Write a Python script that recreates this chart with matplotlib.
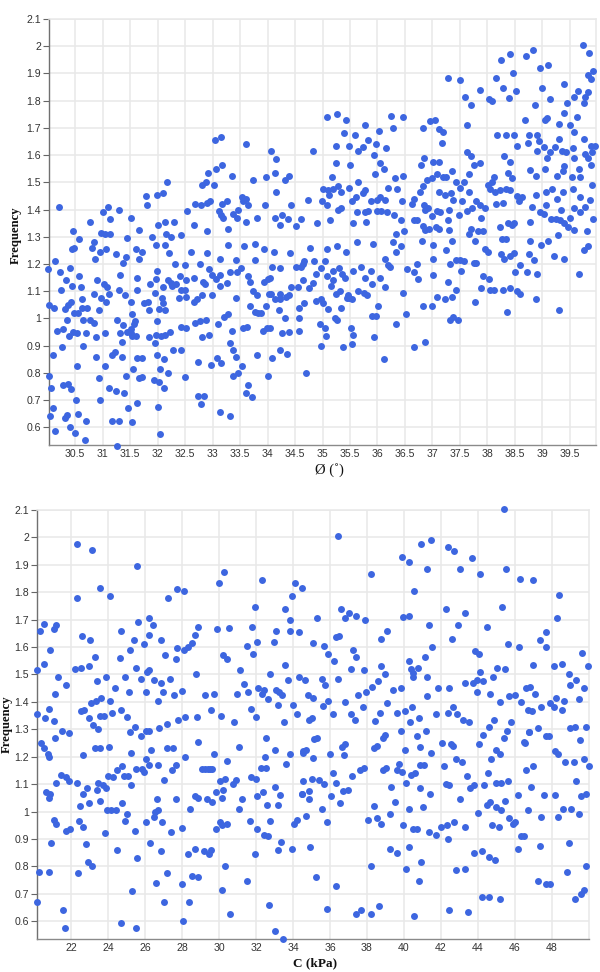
import matplotlib
matplotlib.use("Agg")
import matplotlib.pyplot as plt

phi_upper_left = [(30.21,1.41),(30.46,1.32),(30.77,1.355),(30.97,1.315),(31.04,1.31),(31.13,1.31),(31.00,1.39),(31.10,1.41),(31.13,1.365),(31.30,1.40),(31.44,1.295),(31.52,1.37),(31.66,1.325),(31.79,1.45),(31.81,1.415),(31.89,1.30),(31.99,1.455),(32.10,1.46),(32.17,1.50),(32.0,1.345),(32.13,1.355),(32.16,1.31),(32.24,1.30),(32.29,1.355),(32.43,1.305),(32.53,1.395),(32.66,1.345),(32.69,1.42),(32.79,1.415),(32.81,1.49),(32.89,1.50),(32.91,1.535),(32.90,1.425),(32.96,1.43),(32.90,1.32),(33.03,1.49),(33.05,1.655),(33.16,1.665),(33.07,1.55),(33.17,1.565),(33.18,1.42),(33.26,1.43),(33.11,1.395),(33.16,1.38),(33.19,1.37),(33.28,1.33),(33.36,1.525),(33.37,1.385),(33.44,1.37),(33.47,1.40),(33.53,1.445),(33.61,1.44),(33.56,1.43),(33.65,1.415),(33.60,1.64),(33.61,1.355),(33.74,1.51),(33.80,1.37),(33.95,1.415),(33.97,1.52),(34.06,1.615),(34.16,1.585),(34.14,1.535),(34.15,1.465),(34.13,1.37),(34.26,1.38),(34.22,1.345),(34.37,1.365),(34.31,1.51),(34.39,1.525),(34.42,1.415),(34.52,1.34)]

phi_upper_right = [(34.83,1.615),(35.08,1.74),(35.27,1.75),(35.43,1.73),(35.39,1.68),(35.59,1.675),(35.24,1.635),(35.49,1.635),(35.73,1.63),(35.65,1.615),(35.83,1.655),(35.77,1.71),(35.97,1.64),(36.03,1.69),(35.93,1.60),(36.16,1.625),(36.24,1.745),(36.29,1.70),(36.46,1.74),(35.24,1.57),(35.50,1.565),(36.05,1.57),(36.12,1.55),(35.96,1.53),(35.18,1.52),(36.31,1.515),(36.46,1.525),(35.01,1.475),(35.10,1.47),(35.19,1.475),(35.29,1.485),(35.48,1.48),(35.64,1.50),(35.12,1.455),(35.33,1.465),(35.77,1.47),(35.73,1.46),(35.61,1.445),(35.53,1.43),(34.73,1.435),(34.99,1.43),(35.08,1.415),(35.29,1.40),(35.34,1.405),(35.88,1.43),(36.0,1.435),(36.05,1.445),(36.13,1.435),(36.19,1.48),(36.36,1.475),(36.44,1.43),(35.63,1.39),(35.77,1.39),(35.83,1.395),(36.0,1.395),(36.07,1.395),(36.18,1.39),(36.30,1.38),(34.61,1.365),(34.90,1.35),(35.14,1.36),(35.56,1.35),(35.80,1.355),(36.42,1.36),(36.49,1.32),(36.34,1.31),(36.83,1.70),(36.95,1.725),(37.04,1.73),(37.11,1.695),(37.20,1.685),(37.17,1.645),(37.28,1.885),(37.51,1.875),(37.59,1.815),(37.70,1.785),(37.62,1.71),(37.86,1.84),(38.03,1.805),(38.09,1.80),(38.15,1.885),(38.24,1.95),(38.41,1.97),(38.46,1.90),(38.28,1.845),(38.39,1.81),(38.52,1.835),(38.70,1.965),(38.82,1.985),(38.96,1.92),(39.10,1.93),(38.99,1.845),(39.14,1.805),(38.86,1.785),(39.39,1.86),(39.64,1.835),(39.74,2.005),(39.85,1.975),(39.82,1.895),(39.92,1.91),(39.88,1.88),(39.82,1.83),(39.78,1.815),(39.58,1.815),(39.44,1.79),(39.75,1.79),(39.40,1.755),(39.63,1.74),(38.68,1.73),(39.04,1.73),(39.08,1.735),(39.30,1.715),(39.51,1.71),(39.57,1.685),(38.17,1.675),(38.33,1.675),(38.48,1.675),(38.76,1.675),(38.90,1.675),(38.94,1.65),(38.74,1.645),(38.53,1.635),(39.03,1.63),(39.30,1.66),(39.76,1.66),(39.23,1.63),(39.89,1.635),(39.95,1.635),(39.55,1.625),(39.35,1.615),(39.43,1.61),(38.91,1.615),(39.13,1.61),(39.08,1.59),(39.77,1.605),(39.91,1.61),(39.83,1.59),(39.57,1.59),(38.30,1.595),(38.41,1.575),(37.63,1.61),(37.71,1.595),(36.85,1.59),(36.79,1.565),(37.01,1.575),(37.12,1.575),(37.76,1.565),(37.86,1.57),(39.39,1.56),(39.89,1.565),(39.67,1.55),(39.37,1.54),(39.05,1.55),(38.77,1.545),(38.88,1.525),(39.27,1.525),(39.53,1.52),(39.68,1.52),(37.36,1.54),(37.66,1.53),(38.38,1.535),(38.44,1.515),(38.12,1.52),(37.09,1.53),(36.99,1.515),(36.90,1.51),(37.19,1.52),(37.25,1.52),(37.42,1.50),(37.58,1.50),(38.09,1.50),(38.01,1.49),(38.05,1.475),(37.50,1.48),(36.83,1.485),(36.77,1.465),(36.67,1.44),(36.62,1.42),(37.11,1.465),(37.23,1.455),(37.34,1.46),(37.38,1.435),(37.53,1.43),(37.67,1.465),(38.13,1.465),(38.23,1.47),(38.33,1.475),(38.41,1.47),(38.53,1.45),(38.63,1.445),(38.57,1.43),(38.89,1.455),(39.06,1.465),(39.17,1.475),(39.37,1.465),(39.56,1.475),(39.91,1.49),(39.26,1.44),(39.69,1.445),(39.87,1.435),(38.28,1.425),(38.16,1.42),(37.79,1.43),(37.87,1.415),(37.96,1.405),(37.72,1.405),(37.63,1.395),(38.81,1.41),(39.06,1.415),(39.58,1.405),(39.77,1.41),(39.68,1.39),(39.34,1.40),(38.96,1.39),(39.03,1.385),(36.85,1.415),(36.86,1.40),(36.92,1.405),(37.09,1.395),(37.14,1.39),(37.30,1.40),(36.99,1.375),(37.48,1.38),(37.89,1.37),(36.66,1.36),(36.72,1.36),(37.29,1.36),(36.82,1.34),(36.86,1.325),(36.94,1.33),(37.06,1.335),(37.11,1.33),(37.30,1.325),(37.71,1.33),(37.82,1.32),(37.92,1.32),(37.66,1.31),(38.22,1.335),(38.38,1.35),(38.45,1.345),(38.48,1.35),(38.78,1.355),(39.16,1.365),(39.24,1.365),(39.32,1.36),(39.40,1.35),(39.46,1.335),(39.50,1.37),(39.57,1.325),(39.28,1.305),(39.81,1.32),(39.92,1.365)]

phi_lower_left = [(30.58,1.29),(30.84,1.28),(30.44,1.255),(30.48,1.26),(30.80,1.26),(30.96,1.245),(31.06,1.255),(30.86,1.22),(31.24,1.235),(31.42,1.225),(31.38,1.205),(31.60,1.255),(31.72,1.245),(31.67,1.22),(31.98,1.27),(32.14,1.27),(32.21,1.24),(32.61,1.245),(32.90,1.24),(33.29,1.27),(33.58,1.265),(33.78,1.275),(33.93,1.255),(34.12,1.245),(34.41,1.24),(30.14,1.21),(30.01,1.18),(30.23,1.17),(30.40,1.185),(30.34,1.14),(30.58,1.155),(30.45,1.12),(30.60,1.115),(30.24,1.105),(30.89,1.14),(30.85,1.09),(31.03,1.125),(31.08,1.115),(31.32,1.16),(31.30,1.105),(31.12,1.09),(30.97,1.075),(31.06,1.06),(31.41,1.085),(31.63,1.105),(31.63,1.15),(31.51,1.06),(31.87,1.125),(31.99,1.175),(31.98,1.145),(31.96,1.095),(32.09,1.115),(32.19,1.14),(32.25,1.13),(32.27,1.12),(32.33,1.125),(32.31,1.20),(32.50,1.195),(32.77,1.20),(32.41,1.155),(32.51,1.14),(32.66,1.15),(32.83,1.135),(32.86,1.125),(32.94,1.18),(32.99,1.16),(33.06,1.145),(33.13,1.16),(33.13,1.22),(33.31,1.17),(33.42,1.215),(33.51,1.185),(33.45,1.17),(33.64,1.155),(33.78,1.215),(33.69,1.135),(33.14,1.12),(33.27,1.13),(34.08,1.19),(34.23,1.185),(34.05,1.15),(34.0,1.145),(33.94,1.135),(34.51,1.19),(34.43,1.115),(34.55,1.115),(33.74,1.10),(33.81,1.085),(34.02,1.09),(34.07,1.09),(34.23,1.09),(34.39,1.085),(34.34,1.08),(34.14,1.07),(34.22,1.07),(33.43,1.075),(32.99,1.085),(32.81,1.085),(32.71,1.07),(32.66,1.06),(32.51,1.08),(32.42,1.105),(32.49,1.105),(32.39,1.075),(32.08,1.075),(32.10,1.055),(32.02,1.035),(32.14,1.03),(31.75,1.055),(31.83,1.06),(31.84,1.03),(30.62,1.07),(30.42,1.06),(30.37,1.05),(30.32,1.035),(30.03,1.05),(30.12,1.04),(30.62,1.04),(30.72,1.04),(30.93,1.03),(30.48,1.02),(30.55,1.02),(31.54,1.015),(30.35,0.995),(30.65,0.995),(30.77,0.995),(30.85,0.985),(31.27,0.995),(31.59,0.99),(31.58,0.98),(31.99,0.99),(31.37,0.975),(30.28,0.96),(30.18,0.955),(30.39,0.935),(30.46,0.95),(30.54,0.945),(30.70,0.945),(30.88,0.93),(31.04,0.945),(31.32,0.945),(31.35,0.915),(31.52,0.96),(31.44,0.95),(31.52,0.945),(31.54,0.935),(31.60,0.935),(31.84,0.93),(31.98,0.94),(32.06,0.935),(32.14,0.94),(32.23,0.95),(31.95,0.91),(32.43,0.97),(32.51,0.965),(32.69,0.985),(32.78,0.99),(32.88,0.995),(32.80,0.93),(32.94,0.94),(33.10,0.98),(33.21,1.005),(33.28,1.015),(33.36,0.955),(33.56,0.965),(33.62,0.97),(33.68,1.045),(33.78,1.025),(33.83,1.02),(33.88,1.02),(33.97,1.045),(34.20,1.03),(34.31,1.00),(33.92,0.955),(33.99,0.965),(34.05,0.965),(34.26,0.945),(34.39,0.95),(30.26,0.895),(30.09,0.865),(30.65,0.90),(30.88,0.86),(31.23,0.875),(31.18,0.865),(31.35,0.86),(31.63,0.855),(31.72,0.855),(31.99,0.865),(32.11,0.85),(32.28,0.885),(32.42,0.885),(32.74,0.84),(32.97,0.83),(33.09,0.855),(33.15,0.835),(33.31,0.91),(33.38,0.885),(33.42,0.86),(33.54,0.825),(33.80,0.865),(34.08,0.855),(34.23,0.885),(34.35,0.87),(30.54,0.825),(31.05,0.825),(31.55,0.815),(32.04,0.815),(32.19,0.80),(30.03,0.79),(30.94,0.78),(31.43,0.79),(31.66,0.78),(31.71,0.785),(31.94,0.775),(32.02,0.765),(32.49,0.785),(33.38,0.79),(33.47,0.80),(34.01,0.79),(30.06,0.745),(30.28,0.755),(30.37,0.76),(30.43,0.74),(31.11,0.745),(31.25,0.735),(31.39,0.725),(32.11,0.745),(30.52,0.70),(30.95,0.70),(31.63,0.69),(32.74,0.715),(32.85,0.715),(32.79,0.685),(33.61,0.725),(33.65,0.755),(33.71,0.71),(30.09,0.67),(31.46,0.67),(32.01,0.675),(30.04,0.64),(30.31,0.635),(30.35,0.645),(30.56,0.65),(30.70,0.625),(31.17,0.625),(31.30,0.625),(31.53,0.62),(33.13,0.655),(33.31,0.64),(30.13,0.585),(30.40,0.60),(30.49,0.58),(30.68,0.555),(32.04,0.575),(31.26,0.53)]

phi_lower_right = [(34.78,1.26),(35.08,1.255),(35.27,1.265),(35.43,1.245),(35.62,1.28),(35.91,1.275),(36.29,1.28),(36.43,1.265),(36.34,1.245),(36.14,1.22),(36.81,1.285),(37.01,1.27),(37.35,1.285),(37.24,1.25),(37.01,1.22),(36.71,1.20),(36.20,1.195),(36.22,1.19),(37.78,1.285),(37.95,1.255),(38.01,1.245),(38.24,1.235),(38.31,1.22),(38.41,1.23),(38.49,1.24),(38.27,1.29),(38.34,1.29),(38.78,1.285),(38.97,1.27),(39.10,1.285),(38.76,1.235),(38.85,1.215),(39.21,1.23),(39.39,1.22),(39.75,1.25),(39.82,1.265),(39.66,1.165),(37.43,1.215),(37.50,1.215),(37.58,1.21),(37.75,1.205),(37.79,1.205),(37.31,1.20),(38.59,1.195),(38.50,1.17),(38.72,1.17),(38.90,1.165),(37.92,1.155),(38.02,1.145),(37.52,1.175),(36.67,1.17),(36.54,1.18),(37.01,1.16),(36.73,1.145),(35.88,1.175),(35.70,1.19),(35.55,1.175),(36.05,1.15),(35.77,1.15),(35.90,1.125),(36.13,1.115),(35.30,1.185),(35.36,1.165),(35.41,1.15),(35.19,1.175),(35.09,1.155),(35.05,1.21),(34.84,1.21),(34.67,1.21),(34.64,1.20),(34.6,1.19),(34.98,1.185),(34.89,1.165),(34.64,1.14),(34.83,1.13),(35.2,1.14),(35.16,1.12),(34.76,1.11),(37.29,1.135),(37.42,1.105),(37.88,1.11),(38.04,1.105),(38.12,1.105),(38.28,1.105),(38.41,1.11),(38.54,1.10),(38.6,1.09),(38.88,1.07),(35.24,1.09),(35.31,1.10),(35.47,1.085),(35.44,1.075),(35.48,1.075),(35.53,1.07),(35.64,1.10),(35.76,1.095),(35.81,1.085),(36.47,1.095),(37.08,1.08),(37.22,1.07),(37.35,1.08),(37.78,1.06),(34.88,1.065),(34.97,1.07),(35.01,1.055),(35.10,1.035),(34.67,1.055),(34.58,1.04),(35.34,1.04),(36.01,1.045),(36.83,1.045),(37.0,1.045),(35.90,1.01),(35.98,1.01),(36.51,1.015),(38.35,1.025),(39.30,1.03),(34.58,1.00),(35.22,1.00),(35.26,0.995),(34.96,0.98),(35.05,0.965),(35.51,0.965),(36.33,0.98),(37.32,0.995),(37.38,1.005),(37.47,0.995),(34.58,0.955),(35.06,0.935),(35.56,0.94),(35.93,0.93),(34.97,0.90),(35.37,0.895),(35.53,0.905),(36.66,0.895),(36.86,0.915),(36.11,0.85),(34.70,0.80)]

c_upper_left = [(20.16,1.515),(20.30,1.66),(20.50,1.685),(20.52,1.54),(20.86,1.59),(21.08,1.665),(21.19,1.68),(21.26,1.49),(21.71,1.46),(21.13,1.43),(20.77,1.375),(20.16,1.355),(20.59,1.34),(21.04,1.33),(21.51,1.295),(22.33,1.975),(23.10,1.955),(25.56,1.895),(22.31,1.78),(23.54,1.815),(24.12,1.785),(22.60,1.64),(23.03,1.625),(24.71,1.66),(25.60,1.69),(26.23,1.705),(26.45,1.68),(26.23,1.645),(25.38,1.625),(25.94,1.61),(26.85,1.625),(25.20,1.59),(24.66,1.56),(23.30,1.565),(22.20,1.52),(22.51,1.525),(22.94,1.53),(23.39,1.475),(23.88,1.49),(24.91,1.49),(25.49,1.525),(26.12,1.51),(26.20,1.515),(25.80,1.485),(26.50,1.48),(24.39,1.45),(25.11,1.435),(26.03,1.435),(26.86,1.47),(26.99,1.435),(27.32,1.485),(27.05,1.57),(27.70,1.595),(27.68,1.555),(27.23,1.78),(27.71,1.81),(28.11,1.805),(28.84,1.675),(28.71,1.645),(28.51,1.615),(28.31,1.60),(28.11,1.59),(28.73,1.50),(28.0,1.44),(27.55,1.425),(26.70,1.405),(23.59,1.415),(23.34,1.405),(23.07,1.395),(24.10,1.405),(22.69,1.37),(22.54,1.365),(22.94,1.34),(23.57,1.35),(23.77,1.35),(24.22,1.36),(24.68,1.37),(25.0,1.345),(23.16,1.315),(23.45,1.30),(25.45,1.31),(26.05,1.295),(26.21,1.295),(25.18,1.29),(26.77,1.305),(27.19,1.32),(27.77,1.335),(28.13,1.345),(28.82,1.345),(29.22,1.425),(29.70,1.43),(29.54,1.37),(30.12,1.35),(30.81,1.325),(29.88,1.665),(30.52,1.67),(30.01,1.835),(30.25,1.875),(30.23,1.57),(30.44,1.555),(31.15,1.515),(31.51,1.605),(31.80,1.675),(31.96,1.745),(32.31,1.845),(32.05,1.62),(31.84,1.575),(31.35,1.465),(30.99,1.43),(31.55,1.435),(31.71,1.375),(32.01,1.345),(32.13,1.45),(32.42,1.445),(32.31,1.43),(32.63,1.41),(33.09,1.66),(32.96,1.62),(33.55,1.74),(33.81,1.70),(33.94,1.785),(34.10,1.835),(34.46,1.815),(33.83,1.66),(34.35,1.655),(33.54,1.535),(32.78,1.50),(34.30,1.49),(33.75,1.48),(33.10,1.445),(33.23,1.435),(33.39,1.425),(33.21,1.39),(33.99,1.39),(34.23,1.355),(33.50,1.325)]

c_upper_right = [(36.45,2.005),(38.20,1.865),(39.88,1.93),(40.30,1.91),(40.91,1.975),(41.49,1.99),(41.27,1.885),(40.55,1.805),(42.41,1.965),(42.73,1.95),(43.67,1.925),(43.04,1.885),(44.10,1.865),(45.44,2.105),(45.53,1.885),(46.27,1.85),(46.97,1.845),(48.38,1.79),(36.61,1.74),(37.01,1.725),(36.79,1.705),(35.30,1.705),(37.43,1.715),(37.91,1.70),(39.07,1.66),(38.76,1.63),(39.95,1.71),(40.30,1.715),(41.36,1.68),(42.30,1.74),(43.33,1.725),(42.91,1.68),(44.50,1.675),(45.33,1.745),(48.26,1.705),(47.70,1.655),(47.37,1.625),(42.62,1.63),(35.06,1.615),(35.67,1.605),(35.89,1.575),(36.23,1.55),(36.32,1.635),(36.51,1.64),(37.26,1.59),(37.41,1.565),(37.14,1.52),(37.84,1.515),(38.74,1.53),(38.96,1.50),(41.51,1.60),(41.16,1.565),(40.30,1.55),(40.75,1.525),(40.37,1.52),(40.51,1.505),(40.48,1.49),(41.27,1.49),(43.87,1.585),(44.05,1.575),(44.12,1.51),(45.62,1.61),(46.25,1.60),(47.68,1.60),(49.65,1.58),(48.55,1.54),(48.11,1.53),(46.96,1.535),(45.06,1.525),(45.49,1.52),(49.97,1.53),(48.91,1.50),(49.30,1.48),(44.81,1.49),(35.55,1.485),(34.63,1.48),(35.73,1.46),(36.43,1.485),(38.62,1.475),(38.29,1.455),(37.95,1.435),(37.53,1.425),(39.43,1.445),(39.84,1.45),(41.85,1.45),(42.46,1.45),(43.31,1.47),(43.73,1.47),(43.96,1.48),(44.30,1.475),(43.98,1.435),(44.68,1.43),(45.21,1.40),(45.67,1.42),(46.0,1.425),(46.61,1.45),(46.83,1.455),(47.12,1.43),(46.36,1.40),(49.01,1.46),(49.75,1.45),(49.48,1.41),(48.24,1.415),(48.69,1.405),(47.93,1.395),(48.11,1.38),(48.55,1.37),(47.44,1.38),(46.72,1.37),(46.94,1.365),(34.81,1.425),(35.06,1.415),(35.87,1.405),(35.64,1.385),(36.79,1.40),(36.18,1.355),(37.14,1.355),(37.35,1.335),(37.77,1.38),(39.10,1.395),(38.73,1.36),(38.42,1.33),(39.61,1.36),(40.06,1.365),(40.46,1.38),(40.31,1.325),(40.82,1.34),(41.27,1.42),(41.72,1.355),(42.39,1.36),(42.68,1.38),(42.86,1.355),(43.22,1.335),(43.53,1.325),(44.90,1.335),(44.61,1.31),(45.82,1.325),(34.86,1.335),(35.03,1.34),(39.84,1.295),(41.2,1.295),(45.6,1.295),(46.76,1.29),(47.26,1.305),(49.0,1.305),(49.28,1.31),(49.83,1.31)]

c_lower_left = [(20.35,1.25),(20.54,1.23),(20.72,1.21),(20.77,1.20),(21.11,1.27),(21.89,1.285),(22.65,1.205),(23.28,1.23),(23.56,1.23),(24.04,1.235),(25.25,1.215),(25.76,1.275),(28.85,1.255),(26.34,1.225),(27.19,1.23),(27.53,1.23),(26.07,1.19),(28.17,1.20),(29.74,1.21),(30.44,1.185),(31.08,1.235),(32.52,1.27),(33.05,1.225),(32.49,1.20),(33.86,1.21),(34.55,1.215),(25.53,1.155),(25.83,1.155),(25.91,1.145),(26.18,1.17),(26.67,1.17),(27.66,1.17),(27.44,1.15),(24.73,1.165),(24.48,1.15),(24.26,1.125),(24.01,1.13),(24.86,1.13),(25.06,1.13),(25.24,1.095),(21.46,1.135),(21.71,1.125),(21.87,1.11),(21.15,1.105),(22.31,1.105),(23.43,1.105),(23.70,1.095),(23.88,1.085),(23.37,1.08),(22.83,1.085),(22.61,1.065),(20.61,1.07),(20.84,1.065),(20.81,1.05),(23.56,1.04),(22.96,1.03),(22.45,1.02),(23.92,1.005),(24.15,1.005),(24.41,1.005),(24.75,1.03),(25.04,0.99),(27.01,1.115),(26.63,1.045),(27.66,1.045),(28.40,1.01),(26.52,1.00),(26.72,1.005),(26.50,0.98),(21.06,0.97),(21.19,0.955),(22.40,0.965),(24.89,0.965),(26.07,0.96),(26.92,0.96),(22.65,0.945),(21.69,0.93),(21.91,0.935),(23.81,0.92),(25.45,0.93),(27.39,0.925),(27.99,0.94),(20.93,0.885),(22.80,0.88),(26.25,0.885),(24.50,0.86),(26.85,0.855),(25.54,0.83),(28.69,0.865),(28.31,0.845),(29.20,0.855),(29.54,0.86),(29.43,0.845),(22.92,0.815),(23.12,0.80),(20.25,0.78),(20.82,0.78),(22.36,0.775),(27.17,0.775),(28.56,0.765),(28.87,0.76),(26.61,0.74),(27.99,0.735),(25.27,0.71),(20.17,0.67),(27.03,0.67),(28.35,0.67),(30.17,0.715),(30.34,0.80),(21.55,0.64),(21.66,0.575),(24.71,0.595),(25.49,0.575),(28.04,0.60),(29.05,1.155),(29.22,1.155),(29.38,1.155),(29.52,1.155),(29.63,1.155),(28.69,1.055),(28.87,1.05),(29.34,1.045),(29.63,1.035),(29.85,1.07),(30.03,1.11),(30.34,1.12),(30.23,1.08),(30.14,1.05),(30.90,1.115),(30.73,1.10),(31.22,1.045),(31.10,1.01),(30.07,0.96),(30.16,0.95),(30.43,0.955),(29.81,0.935),(31.67,0.965),(32.07,0.935),(32.42,0.915),(32.65,0.91),(32.78,0.965),(32.60,1.025),(32.04,1.055),(32.38,1.07),(31.71,1.125),(32.0,1.12),(32.27,1.16),(32.56,1.16),(33.0,1.09),(33.32,1.06),(33.21,1.025),(33.63,1.175),(33.36,0.89),(33.21,0.86),(33.92,0.865),(31.93,0.845),(31.51,0.745),(32.69,0.66),(30.57,0.625),(33.03,0.565),(33.48,0.535),(34.04,0.955),(34.19,0.97),(34.46,1.065)]

c_lower_right = [(35.31,1.27),(35.15,1.265),(34.56,1.22),(34.70,1.225),(35.10,1.195),(36.02,1.21),(36.63,1.235),(36.83,1.245),(36.78,1.205),(38.85,1.27),(39.0,1.28),(40.71,1.275),(38.40,1.23),(38.56,1.24),(40.06,1.225),(40.87,1.235),(41.47,1.215),(42.05,1.25),(42.55,1.245),(42.66,1.24),(42.81,1.19),(43.17,1.18),(44.09,1.245),(44.27,1.28),(45.42,1.27),(44.97,1.225),(45.21,1.21),(44.72,1.19),(46.78,1.29),(46.52,1.255),(46.58,1.25),(47.68,1.275),(47.84,1.275),(49.54,1.26),(48.15,1.22),(48.36,1.21),(48.71,1.18),(49.18,1.18),(49.75,1.19),(49.99,1.165),(39.75,1.175),(38.89,1.15),(39.03,1.16),(39.63,1.15),(39.92,1.145),(40.40,1.135),(40.62,1.14),(40.89,1.17),(41.09,1.17),(42.17,1.165),(43.40,1.13),(44.57,1.14),(46.63,1.15),(47.01,1.165),(36.14,1.14),(37.19,1.13),(37.62,1.15),(37.82,1.16),(34.56,1.11),(35.01,1.12),(35.39,1.115),(35.66,1.10),(36.32,1.105),(40.10,1.105),(42.28,1.10),(42.43,1.095),(45.0,1.105),(45.28,1.105),(45.62,1.11),(49.30,1.11),(43.82,1.095),(43.60,1.085),(44.34,1.095),(46.88,1.09),(39.32,1.09),(40.87,1.085),(34.47,1.065),(34.84,1.075),(34.84,1.045),(36.05,1.055),(36.69,1.075),(36.99,1.08),(36.52,1.03),(41.40,1.065),(43.06,1.045),(45.48,1.04),(46.20,1.06),(47.57,1.06),(48.20,1.06),(49.57,1.055),(49.88,1.065),(39.52,1.035),(38.40,1.02),(40.30,1.01),(41.05,1.015),(44.48,1.025),(44.68,1.035),(45.01,1.015),(45.26,1.005),(46.72,1.005),(48.62,1.01),(49.05,1.01),(35.57,1.01),(34.68,0.985),(35.82,0.96),(38.04,0.97),(38.56,0.975),(38.76,0.955),(39.23,0.99),(44.01,0.995),(45.69,0.975),(46.02,0.96),(45.93,0.955),(47.43,0.98),(48.33,0.98),(49.45,0.99),(39.94,0.95),(40.51,0.935),(40.73,0.935),(41.34,0.925),(41.76,0.915),(42.03,0.945),(42.32,0.95),(42.70,0.96),(42.41,0.90),(43.33,0.945),(44.75,0.95),(45.12,0.945),(46.32,0.91),(46.52,0.91),(34.93,0.87),(39.23,0.865),(39.63,0.85),(40.26,0.87),(43.82,0.85),(44.21,0.855),(44.62,0.835),(44.95,0.825),(46.20,0.865),(47.37,0.875),(48.96,0.885),(38.20,0.80),(40.12,0.79),(40.91,0.815),(42.84,0.785),(43.29,0.79),(49.85,0.80),(48.80,0.78),(35.22,0.76),(36.32,0.73),(40.82,0.745),(47.26,0.745),(47.71,0.735),(47.93,0.735),(49.72,0.715),(49.56,0.70),(49.27,0.68),(44.25,0.69),(44.62,0.69),(45.19,0.68),(35.82,0.645),(37.41,0.625),(37.70,0.64),(38.22,0.625),(38.67,0.655),(40.57,0.62),(42.44,0.64),(43.45,0.635)]

freq_ticks = [0.6, 0.7, 0.8, 0.9, 1, 1.1, 1.2, 1.3, 1.4, 1.5, 1.6, 1.7, 1.8, 1.9, 2, 2.1]
phi_ticks = [30.5, 31, 31.5, 32, 32.5, 33, 33.5, 34, 34.5, 35, 35.5, 36, 36.5, 37, 37.5, 38, 38.5, 39, 39.5]
c_ticks = list(range(22, 50, 2))
y_limits = (0.535, 2.1)
phi_limits = (30.02, 39.98)
c_limits = (20.13, 50.0)

W, H = 600, 972
fig = plt.figure(figsize=(W / 100, H / 100), dpi=100, facecolor="white")
plt.rcParams["font.family"] = ["Liberation Sans", "DejaVu Sans"]
BLUE = "#3d66e0"
GRID = "#e8e8e8"


def panel(left, right, top, bottom, pts, xlim, xticks):
    ax = fig.add_axes([left / W, 1 - bottom / H, (right - left) / W, (bottom - top) / H])
    xs = [p[0] for p in pts]
    ys = [p[1] for p in pts]
    ax.scatter(xs, ys, s=25, color=BLUE, linewidths=0, zorder=3, clip_on=False)
    ax.set_xlim(*xlim)
    ax.set_ylim(*y_limits)
    ax.set_xticks(xticks)
    ax.set_xticklabels([f"{t:g}" for t in xticks])
    ax.set_yticks(freq_ticks)
    ax.set_yticklabels([f"{t:g}" for t in freq_ticks])
    ax.grid(True, color=GRID, linewidth=1.1, zorder=0)
    ax.set_axisbelow(True)
    ax.tick_params(axis="x", length=0, pad=3.2, labelsize=7.6, labelcolor="#333333")
    ax.tick_params(axis="y", length=4, width=0.8, color="#666666", pad=1.5, labelsize=7.6, labelcolor="#333333")
    for s in ("top", "right"):
        ax.spines[s].set_color(GRID)
        ax.spines[s].set_linewidth(1.1)
    ax.spines["left"].set_color("#707070")
    ax.spines["left"].set_linewidth(1.0)
    ax.spines["bottom"].set_color("#8a8a8a")
    ax.spines["bottom"].set_linewidth(1.0)
    return ax


panel(48.7, 596.3, 19, 445, phi_upper_left + phi_upper_right + phi_lower_left + phi_lower_right, phi_limits, phi_ticks)
panel(36.7, 588.7, 510, 939, c_upper_left + c_upper_right + c_lower_left + c_lower_right, c_limits, c_ticks)

serif = ["Liberation Serif", "DejaVu Serif"]
fig.text(16 / W, 1 - 235 / H, "Frequency", rotation=90, ha="center", va="center",
         family=serif, fontweight="bold", fontsize=9.2, color="#111111")
fig.text(7 / W, 1 - 724.5 / H, "Frequency", rotation=90, ha="center", va="center",
         family=serif, fontweight="bold", fontsize=9.2, color="#111111")
fig.text(329.5 / W, 1 - 470 / H, "Ø (˚)", ha="center", va="center", family=serif, fontsize=10.5, color="#111111")
fig.text(315 / W, 1 - 963 / H, "C (kPa)", ha="center", va="center", family=serif, fontweight="bold", fontsize=9.5, color="#111111")

fig.savefig("out.png", dpi=100, facecolor="white")
